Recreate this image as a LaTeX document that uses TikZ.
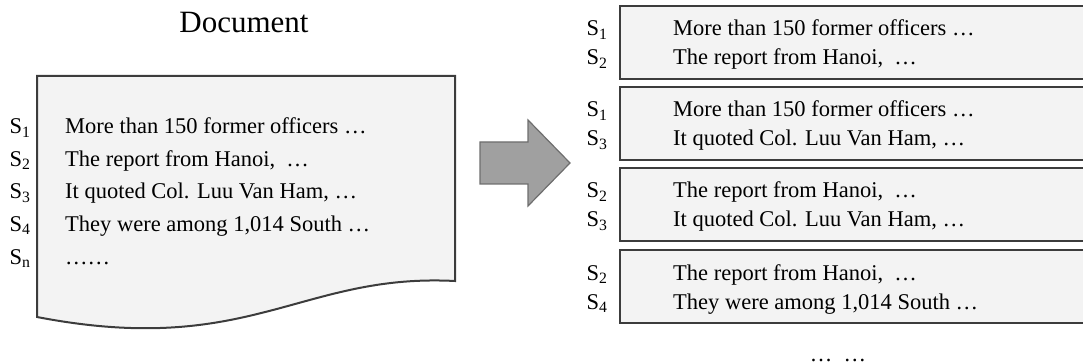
\documentclass[tikz,border=0pt]{standalone}
\usepackage{fontspec}
\setmainfont{Liberation Serif}
\usepackage{tikz}
\usetikzlibrary{positioning}
\definecolor{pagefill}{RGB}{243,243,243}
\definecolor{edgegray}{RGB}{60,60,60}
\definecolor{arrowfill}{RGB}{160,160,160}
\definecolor{arrowedge}{RGB}{110,110,110}
\tikzset{
  sentence/.style={anchor=base west,inner sep=0pt,font=\fontsize{22.5}{27}\selectfont},
  slabel/.style={anchor=base,inner sep=0pt,font=\fontsize{22.5}{27}\selectfont},
  pairbox/.style={draw=edgegray,fill=pagefill,line width=2.4pt},
}
% one box of the right column: name, top, label 1, line 1, label 2, line 2
\newcommand{\pairbox}[6]{%
  \draw[pairbox] (620,#2) rectangle (1095,#2+73);
  \node[slabel] (#1s1) at (597,#2+30) {S\textsubscript{#3}};
  \node[sentence] (#1t1) at (673,#2+30) {#4};
  \node[slabel] (#1s2) at (597,#2+59) {S\textsubscript{#5}};
  \node[sentence] (#1t2) at (673,#2+59) {#6};
}

\begin{document}
\begin{tikzpicture}[x=1pt,y=-1pt]
  \useasboundingbox (0,0) rectangle (1083,363);
  \node[anchor=base,inner sep=0pt,font=\fontsize{31}{36}\selectfont] (title) at (244,33) {Document};
  % the document page
  \draw[draw=edgegray,fill=pagefill,line width=2pt]
    (37,76) -- (455,76) -- (455,281)
    .. controls (300,273) and (250,358) .. (37,317) -- cycle;
  \foreach \s/\txt [count=\i] in {1/{More than 150 former officers \dots},
      2/{The report from Hanoi,\ \ \dots},
      3/{It quoted Col. Luu Van Ham, \dots},
      4/{They were among 1,014 South \dots},
      n/{\dots\dots}}{
    \node[slabel] (ds\i) at (20,134+32.5*\i-32.5) {S\textsubscript{\s}};
    \node[sentence] (dt\i) at (65,134+32.5*\i-32.5) {\txt};
  }
  % big arrow
  \filldraw[fill=arrowfill,draw=arrowedge,line width=1.2pt]
    (480,142) -- (528,142) -- (528,120) -- (570,163) -- (528,206)
    -- (528,184) -- (480,184) -- cycle;
  % sentence pairs
  \pairbox{pa}{6}{1}{More than 150 former officers \dots}{2}{The report from Hanoi,\ \ \dots}
  \pairbox{pb}{87}{1}{More than 150 former officers \dots}{3}{It quoted Col. Luu Van Ham, \dots}
  \pairbox{pc}{168}{2}{The report from Hanoi,\ \ \dots}{3}{It quoted Col. Luu Van Ham, \dots}
  \pairbox{pd}{250}{2}{The report from Hanoi,\ \ \dots}{4}{They were among 1,014 South \dots}
  \node[slabel] (more) at (838,361) {\dots\ \ \dots};
\end{tikzpicture}
\end{document}
